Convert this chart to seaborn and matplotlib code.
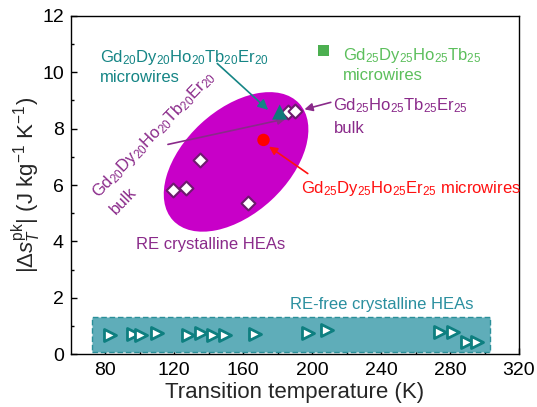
import matplotlib
matplotlib.use("Agg")
import matplotlib.pyplot as plt
import seaborn as sns
import pandas as pd
from matplotlib.patches import Ellipse, Rectangle
from matplotlib.transforms import Affine2D

# ---------------- data ----------------
bulk_T = [119.6, 126.6, 135.1, 163.1, 185.9, 190.1]
bulk_S = [5.82, 5.88, 6.89, 5.35, 8.60, 8.62]

refree_T = [82.5, 96.4, 100.9, 110.0, 127.9, 135.4, 142.4, 149.2, 167.0,
            197.9, 208.5, 274.2, 281.9, 289.7, 295.5]
refree_S = [0.67, 0.71, 0.67, 0.73, 0.67, 0.73, 0.67, 0.67, 0.71,
            0.76, 0.85, 0.77, 0.79, 0.41, 0.44]

mw5_T, mw5_S = [181.2], [8.59]          # Gd20Dy20Ho20Tb20Er20 microwires
mwEr_T, mwEr_S = [171.8], [7.60]        # Gd25Dy25Ho25Er25 microwires
mwTb_T, mwTb_S = [206.6], [10.77]       # Gd25Dy25Ho25Tb25 microwires

x_ticks = [80, 120, 160, 200, 240, 280, 320]
y_ticks = [0, 2, 4, 6, 8, 10, 12]

sns.set_style("ticks")
plt.rcParams["font.family"] = ["Liberation Sans", "DejaVu Sans"]
plt.rcParams["mathtext.fontset"] = "custom"
plt.rcParams["mathtext.rm"] = "Liberation Sans"
plt.rcParams["mathtext.it"] = "Liberation Sans:italic"
plt.rcParams["mathtext.bf"] = "Liberation Sans:bold"

fig = plt.figure(figsize=(5.37, 4.07), dpi=100)
ax = fig.add_axes([0.1317, 0.1302, 0.9665 - 0.1317, 0.9607 - 0.1302])
ax.set_xlim(60, 320)
ax.set_ylim(0, 12)

# pixel-per-unit scales for drawing the tilted ellipse
p0 = ax.transData.transform((0, 0))
p1 = ax.transData.transform((1, 1))
sx, sy = p1[0] - p0[0], p1[1] - p0[1]

TEAL = "#158585"
PURPLE = "#8a2a8a"
MAG = "#c800c8"

# RE-free band
ax.add_patch(Rectangle((72.3, 0.08), 303.2 - 72.3, 1.30 - 0.08,
                       facecolor="#5fadb9", edgecolor="#2a8f99",
                       linestyle=(0, (4, 2)), lw=1.0, zorder=1))
# RE crystalline ellipse
ell = Ellipse((155.9 * sx, 6.82 * sy), 2 * 86, 2 * 52, angle=42.8,
              facecolor=MAG, edgecolor="none", zorder=1,
              transform=Affine2D().scale(1 / sx, 1 / sy) + ax.transData)
ax.add_patch(ell)

df_bulk = pd.DataFrame({"T": bulk_T, "S": bulk_S})
df_free = pd.DataFrame({"T": refree_T, "S": refree_S})

sns.scatterplot(data=df_free, x="T", y="S", marker=">", s=75,
                facecolor="white", edgecolor="#0e7f80", linewidth=2.0,
                ax=ax, zorder=3)
sns.scatterplot(data=df_bulk, x="T", y="S", marker="D", s=50,
                facecolor="white", edgecolor="#6e1a6e", linewidth=1.5,
                ax=ax, zorder=4)
sns.scatterplot(x=mw5_T, y=mw5_S, marker="^", s=120, color="#0f7a7a",
                edgecolor="none", ax=ax, zorder=7)
sns.scatterplot(x=mwEr_T, y=mwEr_S, marker="o", s=80, color="#ff0000",
                edgecolor="none", ax=ax, zorder=5)
sns.scatterplot(x=mwTb_T, y=mwTb_S, marker="s", s=55, color="#4caf50",
                edgecolor="none", ax=ax, zorder=5)

fs = 12
# annotations
ax.text(76.7, 10.38, r"Gd$_{20}$Dy$_{20}$Ho$_{20}$Tb$_{20}$Er$_{20}$", color=TEAL, fontsize=fs)
ax.text(76.7, 9.67, "microwires", color=TEAL, fontsize=fs)
ax.annotate("", xy=(175.7, 8.60), xytext=(143.8, 10.38),
            arrowprops=dict(arrowstyle="-|>", color=TEAL, lw=1.2, mutation_scale=15), zorder=6)

ax.text(218.1, 10.44, r"Gd$_{25}$Dy$_{25}$Ho$_{25}$Tb$_{25}$", color="#5cbf5c", fontsize=fs)
ax.text(218.1, 9.73, "microwires", color="#5cbf5c", fontsize=fs)

ax.text(212.4, 8.66, r"Gd$_{25}$Ho$_{25}$Tb$_{25}$Er$_{25}$", color=PURPLE, fontsize=fs)
ax.text(212.4, 7.86, "bulk", color=PURPLE, fontsize=fs)
ax.annotate("", xy=(194.0, 8.66), xytext=(212.4, 8.96),
            arrowprops=dict(arrowstyle="-|>", color=PURPLE, lw=1.2, mutation_scale=12), zorder=6)

ax.text(76.1, 5.53, r"Gd$_{20}$Dy$_{20}$Ho$_{20}$Tb$_{20}$Er$_{20}$", color=PURPLE,
        fontsize=fs, rotation=46, rotation_mode="anchor", ha="left", va="baseline")
ax.text(86.0, 4.95, "bulk", color=PURPLE, fontsize=fs, rotation=46,
        rotation_mode="anchor", ha="left", va="baseline")
ax.annotate("", xy=(186.3, 8.37), xytext=(114.8, 7.42),
            arrowprops=dict(arrowstyle="-|>", color=PURPLE, lw=1.2, mutation_scale=12), zorder=6)

ax.text(193.4, 5.73, r"Gd$_{25}$Dy$_{25}$Ho$_{25}$Er$_{25}$ microwires", color="#ff1010", fontsize=fs)
ax.annotate("", xy=(173.7, 7.42), xytext=(198.8, 6.35),
            arrowprops=dict(arrowstyle="-|>", color="#ff1010", lw=1.2, mutation_scale=12), zorder=6)

ax.text(98.0, 3.73, "RE crystalline HEAs", color=PURPLE, fontsize=fs)
ax.text(187.2, 1.59, "RE-free crystalline HEAs", color="#2a8f9f", fontsize=fs)

# axes styling
ax.set_xticks(x_ticks)
ax.set_yticks(y_ticks)
ax.set_xticks([100, 140, 180, 220, 260, 300], minor=True)
ax.set_yticks([1, 3, 5, 7, 9, 11], minor=True)
ax.tick_params(which="both", direction="in", top=False, right=False, colors="black")
ax.tick_params(axis="x", which="major", length=4, width=1, labelsize=14, pad=6)
ax.tick_params(axis="y", which="major", length=4, width=1, labelsize=14, pad=5)
ax.tick_params(which="minor", length=2, width=1)
for sp in ax.spines.values():
    sp.set_visible(True)
    sp.set_linewidth(1.0)
    sp.set_color("black")
ax.set_xlabel("Transition temperature (K)", fontsize=16, labelpad=2)
ax.set_ylabel(r"$|\Delta s_{T}^{\mathrm{pk}}|$ (J kg$^{-1}$ K$^{-1}$)", fontsize=16, labelpad=-1)

fig.savefig("out.png", dpi=100)
